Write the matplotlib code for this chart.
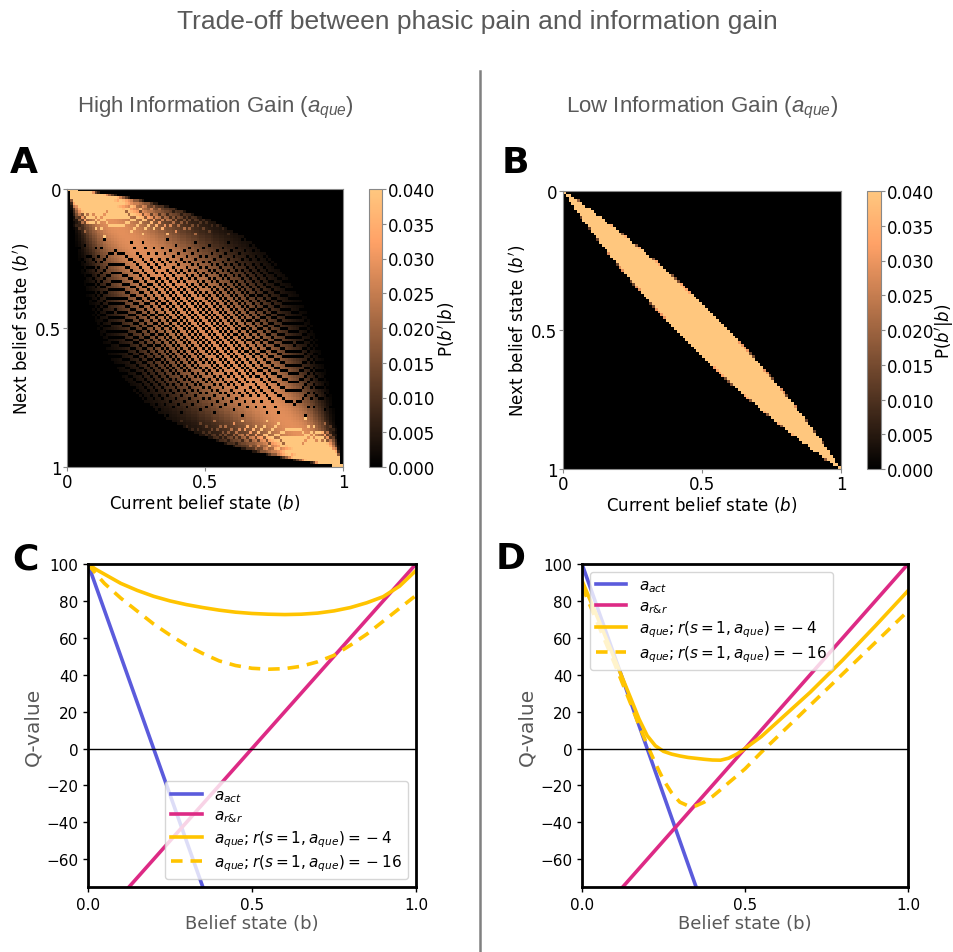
import numpy as np
import matplotlib
matplotlib.use("Agg")
import matplotlib.pyplot as plt
from matplotlib.mathtext import MathTextParser

# ------------------------------------------------------------------ data
# Belief-transition heatmaps (panels A and B): parameters of the belief
# update model, estimated from the band widths seen in the picture.
belief_bins = 100            # grid of b and b'
obs_levels = 61              # discrete observation levels
obs_range = 1.0              # observations lie in [-obs_range, obs_range]
llr_span_A = 2.1             # max |log-likelihood ratio| of one observation (A)
noise_sd_A = 0.45            # observation noise (A, high information gain)
llr_span_B = 0.38            # max |log-likelihood ratio| of one observation (B)
noise_sd_B = 3.0             # observation noise (B, low information gain)

heat_ticks = [0, 0.5, 1]
heat_ticklabels = ["0", "0.5", "1"]
cbar_ticks = [0.000, 0.005, 0.010, 0.015, 0.020, 0.025, 0.030, 0.035, 0.040]

# Q-value curves (panels C and D)
b_line = [0.0, 1.0]
q_act = [100, -400]
q_rr = [-100, 100]

b_C = [0.0, 0.025, 0.05, 0.1, 0.15, 0.2, 0.25, 0.3, 0.35, 0.4, 0.45, 0.5,
       0.55, 0.6, 0.65, 0.7, 0.75, 0.8, 0.85, 0.9, 0.95, 1.0]
q_que4_C = [100, 97, 94.5, 89.5, 85.7, 82.5, 80, 78, 76.4, 75, 73.9, 73.2,
            72.8, 72.6, 72.8, 73.4, 74.6, 76.4, 79, 82.3, 88, 96.5]
q_que16_C = [100, 94.5, 89.5, 81.5, 74.5, 67.5, 61.5, 56, 51.5, 47.5, 45, 43.5,
             43, 43.3, 44.6, 47, 50.5, 56, 62, 69, 76, 83]

b_D = [0.0, 0.05, 0.1, 0.15, 0.175, 0.2, 0.225, 0.25, 0.275, 0.3, 0.325, 0.35,
       0.375, 0.4, 0.425, 0.45, 0.475, 0.5, 0.55, 0.6, 0.7, 0.8, 0.9, 1.0]
q_que4_D = [91, 70, 48.6, 27, 16, 7, 1.5, -1.5, -3, -4, -4.8, -5.3,
            -5.8, -6.2, -6.3, -5.2, -3, 0, 6.5, 14.5, 30.5, 48, 66.5, 85.5]
q_que16_D = [88, 67, 46, 24, 12.5, 2, -8, -17, -24, -29, -31, -31,
             -29, -26, -22.3, -18.5, -14.8, -11, -2, 6.5, 23.5, 40.5, 57.5, 74.5]


def first_parsable(options):
    p = MathTextParser("agg")
    for s in options:
        try:
            p.parse(s, dpi=100)
            return s
        except Exception:
            continue
    return "a_r&r"


legend_labels = [r"$a_{act}$",
                 first_parsable([r"$a_{r&r}$", r"$a_{r\mathrm{\&}r}$", r"$a_{r\%r}$"]),
                 r"$a_{que}; r(s=1,a_{que})={}-4$",
                 r"$a_{que}; r(s=1,a_{que})={}-16$"]

c_act = "#5b5bdc"
c_rr = "#dd2a85"
c_que = "#ffc400"
gray_text = "#595959"


def transition_matrix(llr_span, noise_sd):
    """P(b'|b) on a belief grid for a two-state Gaussian observation model."""
    b = np.linspace(0, 1, belief_bins)
    o = np.linspace(-obs_range, obs_range, obs_levels)
    mu = llr_span * noise_sd ** 2 / (2 * obs_range)
    l1 = np.exp(-(o - mu) ** 2 / (2 * noise_sd ** 2))
    l0 = np.exp(-(o + mu) ** 2 / (2 * noise_sd ** 2))
    l1 /= l1.sum()
    l0 /= l0.sum()
    P = np.zeros((belief_bins, belief_bins))
    for i, bi in enumerate(b):
        po = bi * l1 + (1 - bi) * l0
        bp = bi * l1 / po
        j = np.rint(bp * (belief_bins - 1)).astype(int)
        np.add.at(P[:, i], j, po)
    return P


P_A = transition_matrix(llr_span_A, noise_sd_A)
P_B = transition_matrix(llr_span_B, noise_sd_B)

# ------------------------------------------------------------------ figure
W, H = 954, 953
fig = plt.figure(figsize=(W / 100, H / 100), dpi=100)


def rect(x0, y0, x1, y1):
    return [x0 / W, 1 - y1 / H, (x1 - x0) / W, (y1 - y0) / H]


plt.rcParams["mathtext.it"] = "Liberation Sans:italic"
plt.rcParams["mathtext.rm"] = "Liberation Sans"
narrow = ["Liberation Sans Narrow", "Liberation Sans", "DejaVu Sans"]

fig.text(477 / W, 1 - 22 / H, "Trade-off between phasic pain and information gain",
         ha="center", va="center", fontsize=19, color=gray_text,
         family=narrow)
fig.text(215 / W, 1 - 108 / H, r"High Information Gain ($a_{que}$)",
         ha="center", va="center", fontsize=16, color=gray_text,
         family=narrow, math_fontfamily="custom")
fig.text(702 / W, 1 - 108 / H, r"Low Information Gain ($a_{que}$)",
         ha="center", va="center", fontsize=16, color=gray_text,
         family=narrow, math_fontfamily="custom")

fig.add_artist(plt.Line2D([480 / W, 480 / W], [0, 1 - 72 / H],
                          transform=fig.transFigure, color="#808080", lw=1.8))

for lab, x, y in [("A", 24, 163), ("B", 515, 163), ("C", 25, 560), ("D", 511, 559)]:
    fig.text(x / W, 1 - y / H, lab, ha="center", va="center",
             fontsize=26, fontweight="bold", family="DejaVu Sans")


def heat(P, ax_rect, cb_rect, cb_labelpad):
    ax = fig.add_axes(rect(*ax_rect))
    im = ax.imshow(P, cmap="copper", vmin=0, vmax=0.04, extent=[0, 1, 1, 0],
                   aspect="auto", interpolation="nearest")
    ax.set_xticks(heat_ticks)
    ax.set_xticklabels(heat_ticklabels)
    ax.set_yticks(heat_ticks)
    ax.set_yticklabels(heat_ticklabels)
    ax.tick_params(labelsize=12, length=3, color="#888888", pad=1)
    for s in ax.spines.values():
        s.set_color("#888888")
        s.set_linewidth(0.8)
    ax.set_xlabel(r"Current belief state ($b$)", fontsize=12, labelpad=1)
    ax.set_ylabel(r"Next belief state ($b'$)", fontsize=12, labelpad=2)
    cax = fig.add_axes(rect(*cb_rect))
    cb = fig.colorbar(im, cax=cax, ticks=cbar_ticks)
    cb.ax.set_yticklabels([f"{t:.3f}" for t in cbar_ticks])
    cb.ax.tick_params(labelsize=12, length=3, color="#888888", pad=1)
    cb.outline.set_edgecolor("#888888")
    cb.outline.set_linewidth(0.8)
    cb.set_label(r"P($b'|b$)", fontsize=12, labelpad=cb_labelpad)


heat(P_A, (67, 190, 343, 468), (369, 190, 382, 468), 1)
heat(P_B, (563, 192, 841, 470), (867, 192, 881, 470), -1)


def qpanel(ax_rect, b_q, q4, q16, legend_loc):
    ax = fig.add_axes(rect(*ax_rect))
    ax.plot(b_line, q_act, color=c_act, lw=2.6, label=legend_labels[0])
    ax.plot(b_line, q_rr, color=c_rr, lw=2.6, label=legend_labels[1])
    ax.plot(b_q, q4, color=c_que, lw=2.6, label=legend_labels[2])
    ax.plot(b_q, q16, color=c_que, lw=2.6, ls=(0, (3.2, 2.2)), label=legend_labels[3])
    ax.axhline(0, color="black", lw=1.0)
    ax.set_xlim(0, 1)
    ax.set_ylim(-75, 100)
    ax.set_xticks([0.0, 0.5, 1.0])
    ax.set_yticks(list(range(-60, 101, 20)))
    ax.tick_params(labelsize=11, length=3.5, width=1)
    for s in ax.spines.values():
        s.set_linewidth(2)
    ax.set_xlabel("Belief state (b)", fontsize=13, color=gray_text, labelpad=2)
    ax.set_ylabel("Q-value", fontsize=14.5, color=gray_text, labelpad=3)
    ax.legend(loc=legend_loc, fontsize=11, framealpha=0.8, borderaxespad=0.5,
              labelspacing=0.25, handletextpad=0.8, borderpad=0.4)
    return ax


qpanel((88, 565, 416, 888), b_C, q_que4_C, q_que16_C, "lower right")
qpanel((582, 565, 908, 888), b_D, q_que4_D, q_que16_D, "upper left")

fig.savefig("out.png", dpi=100)
